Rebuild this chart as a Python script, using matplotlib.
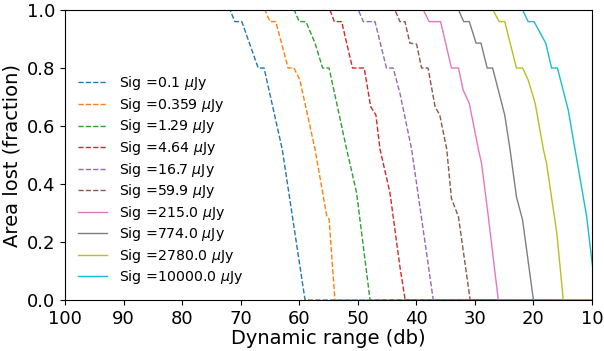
import matplotlib
matplotlib.use("Agg")
import matplotlib.pyplot as plt

# Подписи серий (чувствительность, мкЯн)
sig_labels = ["0.1", "0.359", "1.29", "4.64", "16.7", "59.9",
              "215.0", "774.0", "2780.0", "10000.0"]

# Кривые: динамический диапазон (дБ) и доля потерянной площади
db_01 = [100, 71.8, 71.0, 69.8, 67.0, 66.0, 62.9, 59.0, 10]
af_01 = [1.0, 1.0, 0.96, 0.96, 0.80, 0.80, 0.52, 0.0, 0.0]

db_0359 = [100, 65.85, 65.0, 64.0, 61.9, 60.9, 59.9, 57.3, 55.3, 54.9, 53.9, 10]
af_0359 = [1.0, 1.0, 0.96, 0.96, 0.80, 0.80, 0.76, 0.52, 0.29, 0.28, 0.0, 0.0]

db_129 = [100, 60.85, 60.0, 58.85, 57.3, 56.0, 54.9, 51.9, 50.2, 47.9, 10]
af_129 = [1.0, 1.0, 0.96, 0.96, 0.886, 0.80, 0.80, 0.52, 0.37, 0.0, 0.0]

db_464 = [100, 54.75, 54.0, 52.75, 50.9, 48.9, 47.8, 46.9, 46.2, 44.5, 42.8, 41.9, 10]
af_464 = [1.0, 1.0, 0.96, 0.96, 0.80, 0.80, 0.667, 0.638, 0.52, 0.37, 0.115, 0.0, 0.0]

db_167 = [100, 49.9, 49.05, 47.06, 45.1, 43.95, 42.8, 40.8, 37.1, 10]
af_167 = [1.0, 1.0, 0.96, 0.96, 0.80, 0.80, 0.713, 0.52, 0.0, 0.0]

db_599 = [100, 43.65, 42.8, 41.94, 41.1, 39.95, 39.1, 38.0, 36.8, 36.0, 34.8, 34.0, 32.8, 30.8, 10]
af_599 = [1.0, 1.0, 0.96, 0.96, 0.886, 0.882, 0.80, 0.80, 0.667, 0.638, 0.52, 0.35, 0.287, 0.0, 0.0]

db_215 = [100, 38.8, 37.8, 35.85, 34.0, 32.8, 32.0, 30.95, 29.4, 28.85, 27.7, 26.0, 10]
af_215 = [1.0, 1.0, 0.96, 0.96, 0.80, 0.80, 0.724, 0.678, 0.52, 0.47, 0.287, 0.0, 0.0]

db_774 = [100, 32.8, 31.9, 30.95, 29.8, 28.96, 27.9, 26.97, 24.9, 24.0, 22.9, 21.85, 20.0, 10]
af_774 = [1.0, 1.0, 0.96, 0.96, 0.886, 0.886, 0.80, 0.80, 0.638, 0.52, 0.356, 0.276, 0.0, 0.0]

db_2780 = [100, 26.9, 25.85, 24.9, 22.9, 21.85, 20.9, 19.7, 18.3, 17.75, 16.0, 14.9, 10]
af_2780 = [1.0, 1.0, 0.96, 0.96, 0.80, 0.80, 0.759, 0.678, 0.52, 0.47, 0.23, 0.0, 0.0]

db_10000 = [100, 21.85, 20.9, 19.9, 17.9, 16.9, 15.9, 14.05, 12.9, 10.9, 9.9]
af_10000 = [1.0, 1.0, 0.96, 0.96, 0.886, 0.80, 0.80, 0.655, 0.52, 0.287, 0.115]

curves = [(db_01, af_01), (db_0359, af_0359), (db_129, af_129), (db_464, af_464),
          (db_167, af_167), (db_599, af_599), (db_215, af_215), (db_774, af_774),
          (db_2780, af_2780), (db_10000, af_10000)]

fig = plt.figure(figsize=(6.04, 3.51), dpi=100)
ax = fig.add_axes([0.1076, 0.145, 0.8725, 0.8265])

for i, ((x, y), lab) in enumerate(zip(curves, sig_labels)):
    ls = "--" if i < 6 else "-"
    ax.plot(x, y, ls=ls, lw=1.0, color="C%d" % i, label="Sig =" + lab + r" $\mu$Jy")

ax.set_xlim(100, 10)
ax.set_ylim(0, 1)
ax.set_xticks([100, 90, 80, 70, 60, 50, 40, 30, 20, 10])
ax.set_yticks([0.0, 0.2, 0.4, 0.6, 0.8, 1.0])
ax.tick_params(labelsize=13)
ax.set_xlabel("Dynamic range (db)", fontsize=14, labelpad=1)
ax.set_ylabel("Area lost (fraction)", fontsize=14, labelpad=4)

# Легенда без рамки, слева
ax.legend(loc="upper left", bbox_to_anchor=(0.0, 0.822), frameon=False,
          fontsize=10.2, handlelength=2.1, handletextpad=0.8, labelspacing=0.25)

fig.savefig("out.png", dpi=100)
